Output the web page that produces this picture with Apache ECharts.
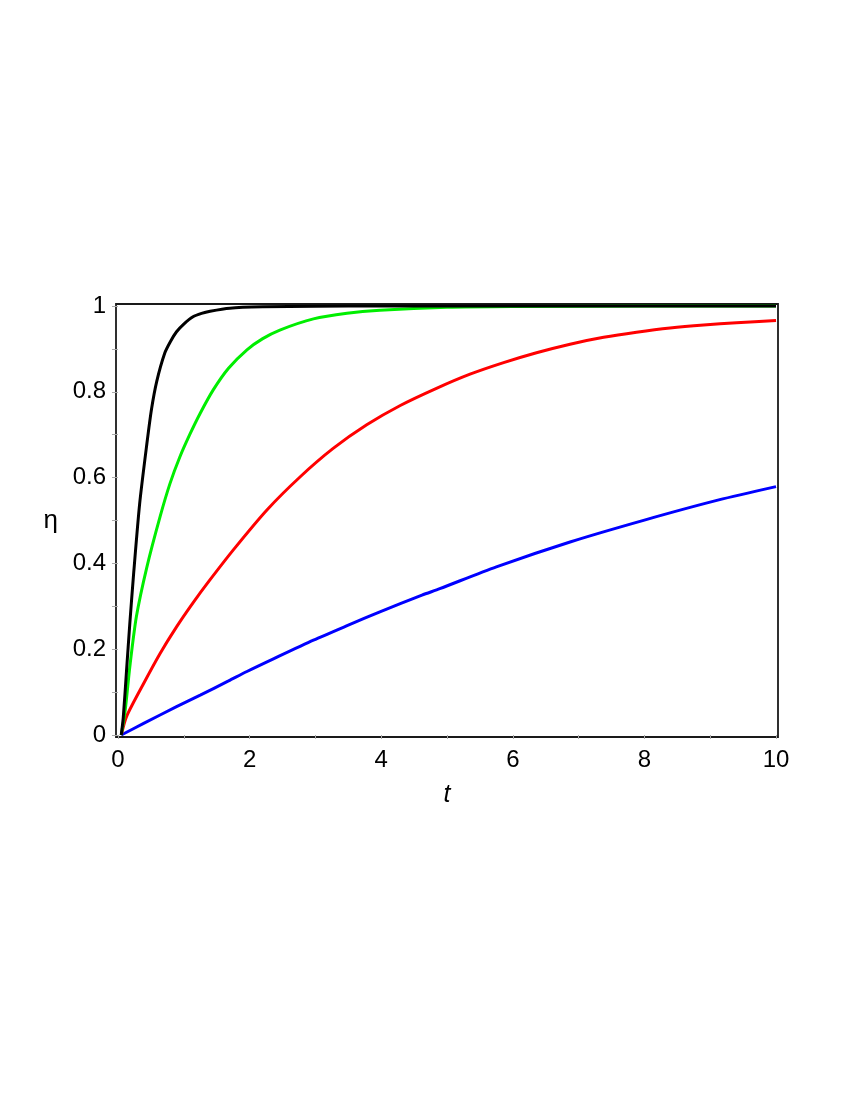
<!DOCTYPE html>
<html>
<head>
<meta charset="utf-8">
<script src="https://cdn.jsdelivr.net/npm/echarts@6/dist/echarts.min.js"></script>
<style>
  html, body { margin: 0; padding: 0; background: #fff; }
  #chart { width: 850px; height: 1100px; }
</style>
</head>
<body>
<div id="chart"></div>
<script>
// values
const tBlack = [0.05, 0.08, 0.13, 0.18, 0.24, 0.33, 0.44, 0.51, 0.59, 0.71, 0.80, 0.89, 1.0, 1.14, 1.27, 1.40, 1.70, 2.2, 3, 4, 6, 8, 10];
const etaBlack = [0, 0.04, 0.15, 0.26, 0.38, 0.54, 0.68, 0.76, 0.825, 0.89, 0.918, 0.94, 0.958, 0.975, 0.983, 0.988, 0.995, 0.998, 0.9995, 1, 1, 1, 1];

const tGreen = [0.05, 0.11, 0.18, 0.28, 0.44, 0.64, 0.79, 0.94, 1.09, 1.25, 1.45, 1.68, 1.96, 2.2, 2.46, 2.97, 3.48, 3.98, 5, 6, 8, 10];
const etaGreen = [0, 0.058, 0.159, 0.276, 0.392, 0.509, 0.586, 0.648, 0.700, 0.750, 0.805, 0.855, 0.898, 0.924, 0.944, 0.970, 0.983, 0.990, 0.997, 0.999, 1, 1];

const tRed = [0.05, 0.13, 0.39, 0.64, 0.89, 1.14, 1.40, 1.75, 2.26, 2.77, 3.27, 3.78, 4.29, 4.84, 5.35, 5.86, 6.36, 6.87, 7.38, 7.88, 8.39, 8.90, 9.40, 10];
const etaRed = [0, 0.043, 0.120, 0.190, 0.252, 0.308, 0.362, 0.431, 0.524, 0.602, 0.668, 0.723, 0.768, 0.808, 0.841, 0.868, 0.891, 0.911, 0.927, 0.939, 0.949, 0.956, 0.961, 0.966];

const tBlue = [0.05, 0.39, 0.89, 1.25, 1.68, 1.96, 2.37, 2.97, 3.50, 3.98, 4.62, 4.89, 5.75, 6.87, 8.00, 9.13, 10];
const etaBlue = [0, 0.027, 0.066, 0.093, 0.126, 0.148, 0.178, 0.221, 0.256, 0.287, 0.326, 0.341, 0.392, 0.450, 0.501, 0.548, 0.579];

const xTicks = [0, 1, 2, 3, 4, 5, 6, 7, 8, 9, 10];
const xLabels = [0, 2, 4, 6, 8, 10];
const yTicks = [0, 0.1, 0.2, 0.3, 0.4, 0.5, 0.6, 0.7, 0.8, 0.9, 1];
const yLabels = [0, 0.2, 0.4, 0.6, 0.8, 1];

const font = "'Liberation Sans', Arial, sans-serif";

function pairs(ts, vs) {
  return ts.map((t, i) => [t, vs[i]]);
}

function curve(name, ts, vs, color) {
  return {
    name: name,
    type: 'line',
    data: pairs(ts, vs),
    showSymbol: false,
    smooth: 0.25,
    lineStyle: { color: color, width: 3 },
    itemStyle: { color: color },
  };
}

const chart = echarts.init(document.getElementById('chart'));
chart.setOption({
  animation: false,
  backgroundColor: '#fff',
  grid: {
    left: 116, top: 304, width: 662, height: 433,
    show: true, borderColor: '#1a1a1a', borderWidth: 1.8,
  },
  xAxis: {
    type: 'value',
    min: -0.03, max: 10.03,
    name: 't',
    nameLocation: 'middle',
    nameGap: 46,
    nameTextStyle: { fontFamily: font, fontSize: 25, fontStyle: 'italic', color: '#000' },
    axisLine: { show: false },
    axisTick: { show: true, customValues: xTicks, length: 4, lineStyle: { color: '#aaa' } },
    axisLabel: {
      customValues: xLabels, margin: 11,
      fontFamily: font, fontSize: 24, color: '#000',
    },
    splitLine: { show: false },
  },
  yAxis: {
    type: 'value',
    min: -0.0047, max: 1.0047,
    name: 'η',
    nameLocation: 'middle',
    nameRotate: 0,
    nameGap: 58,
    nameTextStyle: { fontFamily: font, fontSize: 26, color: '#000' },
    axisLine: { show: false },
    axisTick: { show: true, customValues: yTicks, length: 6, lineStyle: { color: '#aaa' } },
    axisLabel: {
      customValues: yLabels, margin: 10,
      fontFamily: font, fontSize: 24, color: '#000',
    },
    splitLine: { show: false },
  },
  series: [
    curve('blue', tBlue, etaBlue, '#0000ff'),
    curve('red', tRed, etaRed, '#ff0000'),
    curve('green', tGreen, etaGreen, '#00ee00'),
    curve('black', tBlack, etaBlack, '#000000'),
  ],
});
</script>
</body>
</html>
